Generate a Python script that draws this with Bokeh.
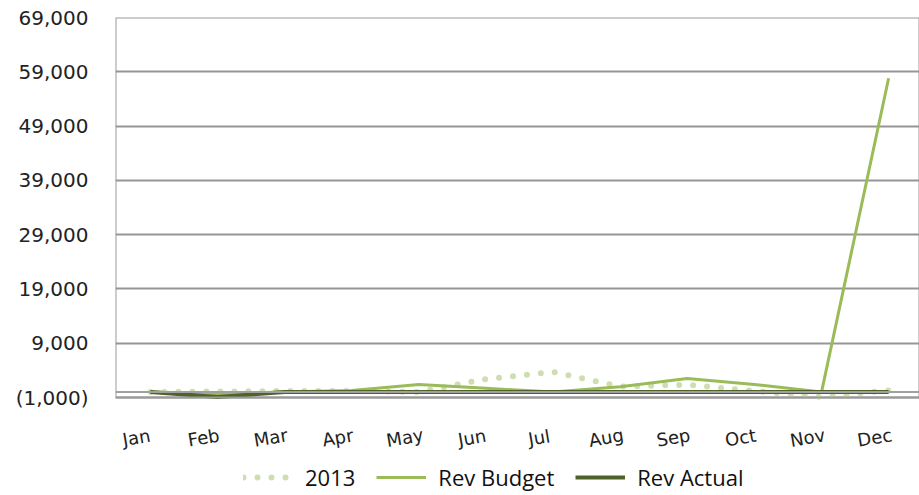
import math
from bokeh.plotting import figure
from bokeh.models import FixedTicker, Legend, LegendItem, Span, ColumnDataSource, BoxAnnotation
from bokeh.core.properties import value
from bokeh.embed import file_html
from bokeh.resources import INLINE

months = ["Jan", "Feb", "Mar", "Apr", "May", "Jun", "Jul", "Aug", "Sep", "Oct", "Nov", "Dec"]
rev_2013 = [0, 100, 200, 200, 0, 2400, 3700, 1000, 1350, 200, -900, 300]
rev_budget = [0, -300, 0, 300, 1400, 700, 0, 1000, 2500, 1400, 0, 57800]
rev_actual = [0, -900, 0, 0, 0, 0, 0, 0, 0, 0, 0, 0]
y_ticks = [-1000, 9000, 19000, 29000, 39000, 49000, 59000, 69000]
y_tick_labels = ["(1,000)", "9,000", "19,000", "29,000", "39,000", "49,000", "59,000", "69,000"]

y_min, y_max = y_ticks[0], y_ticks[-1]
px_per_unit = 380 / (y_max - y_min)          # plot area is 380 px tall
y_start = y_max - 478 / px_per_unit          # frame extends down to hold labels + legend
label_y = y_min - 40 / px_per_unit           # month labels 40 px below the plot area

xs = list(range(len(months)))
src = ColumnDataSource(dict(x=xs, y13=rev_2013, yb=rev_budget, ya=rev_actual))
lab = ColumnDataSource(dict(x=xs, y=[label_y] * len(xs), text=months))

p = figure(frame_width=804, frame_height=478, output_backend="svg", toolbar_location=None,
           x_range=(-0.52, 11.46), y_range=(y_start, y_max), x_axis_location=None,
           min_border_left=115, min_border_top=17, min_border_right=0, min_border_bottom=0)

p.outline_line_color = None

# y axis
p.yaxis.ticker = FixedTicker(ticks=y_ticks)
p.yaxis.major_label_overrides = {t: l for t, l in zip(y_ticks, y_tick_labels)}
p.yaxis.axis_line_color = None
p.yaxis.major_tick_line_color = None
p.yaxis.minor_tick_line_color = None
p.yaxis.major_tick_out = 0
p.yaxis.major_label_standoff = 27
p.yaxis.major_label_text_font = "DejaVu Sans"
p.yaxis.major_label_text_font_size = "20px"
p.yaxis.major_label_text_color = "#222222"

p.xgrid.grid_line_color = None
p.ygrid.ticker = FixedTicker(ticks=y_ticks)
p.ygrid.grid_line_color = "#969696"
p.ygrid.grid_line_width = 2

# plot-area border and category axis line at zero
p.add_layout(BoxAnnotation(bottom=y_min, top=y_max, fill_alpha=0,
                           line_color="#9a9a9a", line_width=2, line_alpha=1))
p.add_layout(Span(location=0, dimension="width", line_color="#a0a0a0", line_width=2))

# month labels (category axis)
p.text("x", "y", text="text", source=lab, angle=0.17, x_offset=-14,
       text_align="center", text_baseline="middle",
       text_font=value("DejaVu Sans"), text_font_size="18px", text_color="#222222")

r13 = p.line("x", "y13", source=src, line_color="#cfdeb2", line_width=6,
             line_dash="0 14", line_cap="round")
rb = p.line("x", "yb", source=src, line_color="#9bbb59", line_width=3)
ra = p.line("x", "ya", source=src, line_color="#4f6228", line_width=4)

legend = Legend(items=[LegendItem(label="2013", renderers=[r13]),
                       LegendItem(label="Rev Budget", renderers=[rb]),
                       LegendItem(label="Rev Actual", renderers=[ra])],
                orientation="horizontal", location=(128, 3),
                label_text_font="Open Sans", label_text_font_size="22px",
                label_text_color="#111111",
                glyph_width=50, glyph_height=20, label_height=20,
                label_standoff=12, spacing=21,
                border_line_color=None, background_fill_alpha=0,
                margin=0, padding=0)
p.add_layout(legend, "center")

open("out.html", "w").write(file_html(p, INLINE))
